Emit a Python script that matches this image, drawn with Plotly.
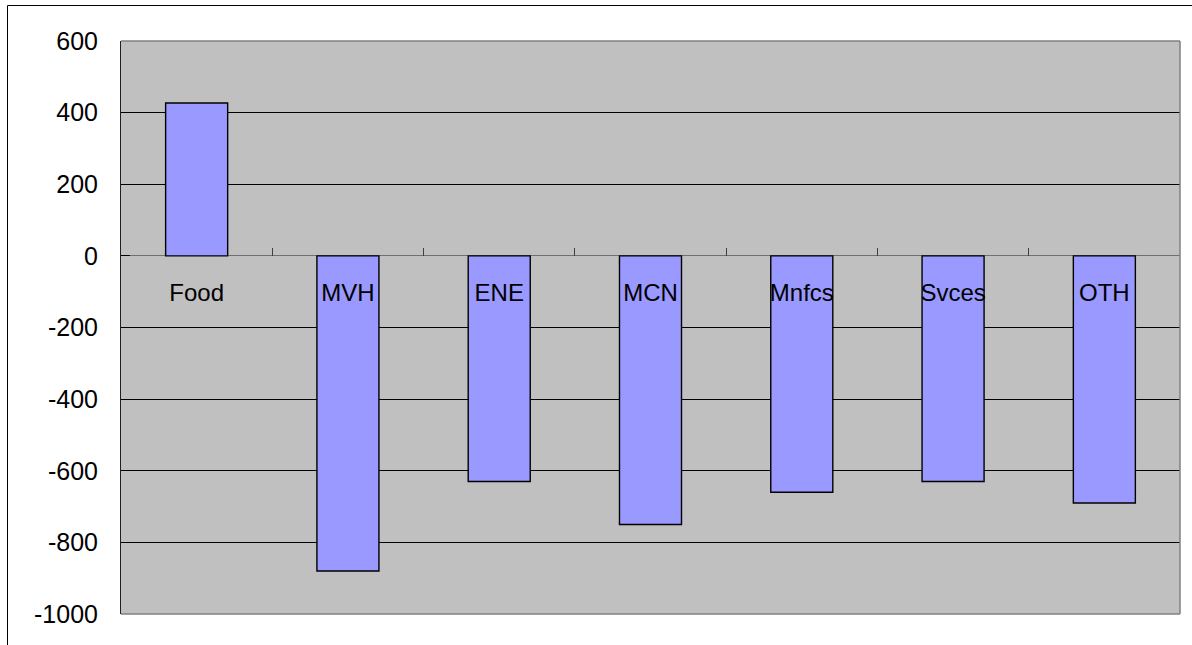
import plotly.graph_objects as go

categories = ["Food", "MVH", "ENE", "MCN", "Mnfcs", "Svces", "OTH"]
values = [427, -880, -630, -750, -660, -630, -690]
y_tickvals = [600, 400, 200, 0, -200, -400, -600, -800, -1000]
y_ticktext = ["600", "400", "200", "0", "-200", "-400", "-600", "-800", "-1000"]

W, H = 1192, 645
ML, MR, MT, MB = 121, 12, 41, 31
PW = W - ML - MR
PH = H - MT - MB
YMIN, YMAX = -1000, 600
FONT = "Liberation Sans, Arial, sans-serif"

fig = go.Figure(go.Bar(
    x=categories, y=values,
    marker=dict(color="#9999FF", line=dict(color="#000000", width=1.4)),
    width=0.41,
))

def px_x(p):
    return (p - ML) / PW

def px_y(p):
    return (H - MB - p) / PH

shapes = [
    dict(type="line", xref="x domain", yref="y domain", x0=0, x1=1, y0=1, y1=1,
         line=dict(color="#808080", width=1.5), layer="above"),
    dict(type="line", xref="x domain", yref="y domain", x0=1, x1=1, y0=0, y1=1,
         line=dict(color="#808080", width=1.5), layer="above"),
    dict(type="line", xref="x domain", yref="y domain", x0=0, x1=1, y0=0, y1=0,
         line=dict(color="#808080", width=1.5), layer="above"),
    dict(type="rect", xref="paper", yref="paper",
         x0=px_x(7.5), x1=px_x(W + 10), y0=px_y(H + 10), y1=px_y(5.5),
         line=dict(color="#000000", width=1), fillcolor="rgba(0,0,0,0)", layer="above"),
]

fig.update_layout(
    width=W, height=H,
    margin=dict(l=ML, r=MR, t=MT, b=MB, pad=0),
    paper_bgcolor="#FFFFFF",
    plot_bgcolor="#C0C0C0",
    showlegend=False,
    bargap=0.59,
    font=dict(family=FONT, size=24, color="#000000"),
    shapes=shapes,
    xaxis=dict(
        anchor="free",
        position=(0 - YMIN) / (YMAX - YMIN),
        showline=False,
        showgrid=False,
        ticks="inside",
        ticklen=8,
        tickcolor="#404040",
        tickwidth=1,
        tickson="boundaries",
        tickfont=dict(family=FONT, size=24, color="#000000"),
        ticklabelstandoff=20,
        layer="above traces",
    ),
    yaxis=dict(
        range=[YMIN, YMAX],
        tickvals=y_tickvals,
        ticktext=y_ticktext,
        showgrid=True,
        gridcolor="#000000",
        gridwidth=1,
        zeroline=True,
        zerolinecolor="#707070",
        zerolinewidth=1,
        showline=True,
        linecolor="#202020",
        linewidth=1,
        ticks="inside",
        ticklen=9,
        tickcolor="#000000",
        tickwidth=1,
        tickfont=dict(family=FONT, size=25, color="#000000"),
        ticklabelstandoff=17,
    ),
)

fig.write_html("out.html")
